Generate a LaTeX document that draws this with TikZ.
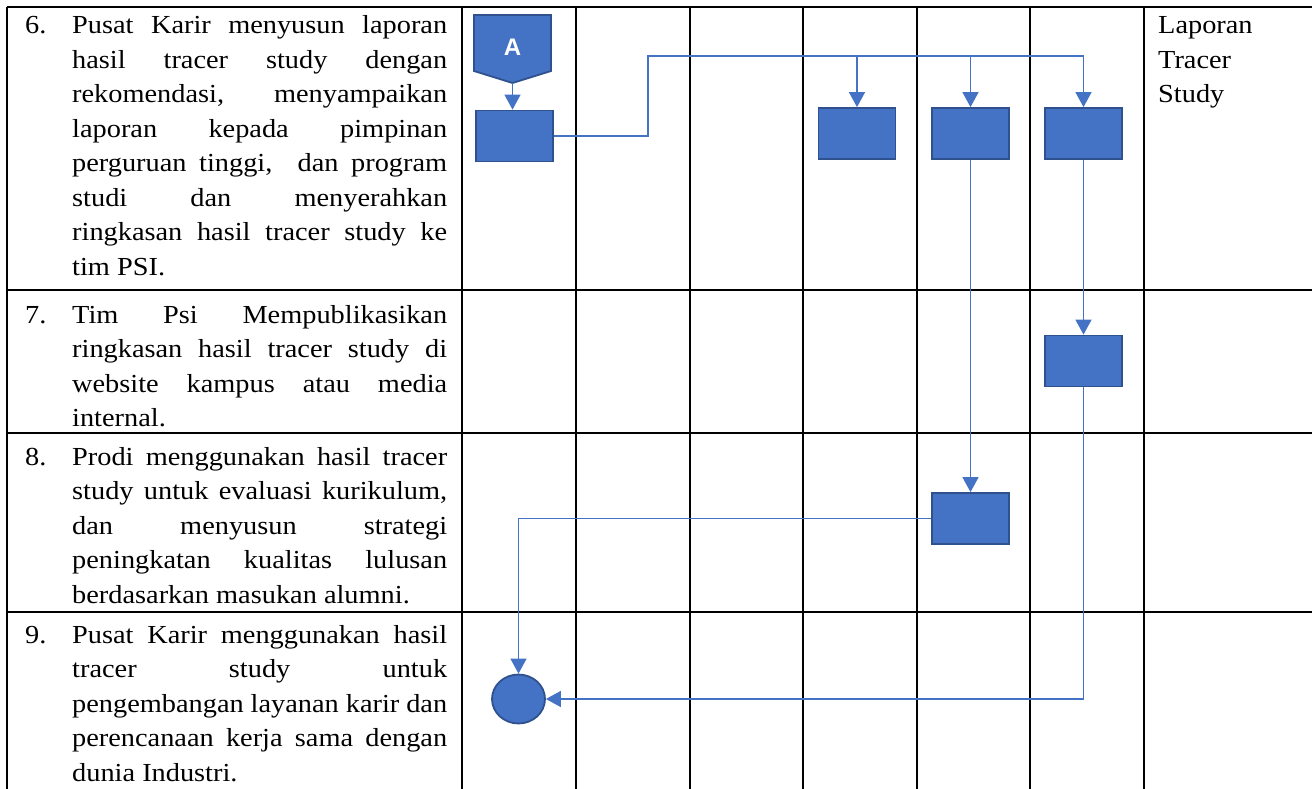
\documentclass[tikz,border=0pt]{standalone}
\usepackage{fontspec}
\setmainfont{Liberation Serif}[FakeStretch=1.09]
\newfontfamily\sansb{Liberation Sans}
\usetikzlibrary{arrows.meta,shapes.geometric}
\definecolor{fillblue}{HTML}{4472C4}
\definecolor{edgeblue}{HTML}{2F528F}
\definecolor{lineblue}{HTML}{4472C4}
\newlength\tw \setlength\tw{375pt}
\newcommand\JL[1]{\makebox[\tw][s]{#1}\\}
\begin{document}
\begin{tikzpicture}[x=1pt,y=-1pt,
  gridline/.style={line width=2.6pt, black},
  proc/.style={rectangle, draw=edgeblue, fill=fillblue, line width=1.8pt, minimum width=77pt, minimum height=51pt, inner sep=0pt},
  endnode/.style={ellipse, draw=edgeblue, fill=fillblue, line width=1.8pt, minimum width=53pt, minimum height=49pt, inner sep=0pt},
  conn/.style={draw=lineblue, line width=1.3pt},
  arr/.style={conn, -{Triangle[width=16pt,length=15pt]}},
  txt/.style={inner sep=0pt, anchor=base west, font=\fontsize{26pt}{34.5pt}\selectfont}]
\useasboundingbox (0,0) rectangle (1312,789);
\fill[white] (0,0) rectangle (1312,789);
% grid
\foreach \x in {7,462,576,690,803,917,1030,1144} \draw[gridline] (\x,7) -- (\x,789);
\foreach \y in {7,290,433,612} \draw[gridline] (7,\y) -- (1312,\y);
% texts
\node[txt] (n6) at (25,34) {6.};
\node[txt] (t6) at (72,34) {\parbox[t]{\tw}{\JL{Pusat Karir menyusun laporan}\JL{hasil tracer study dengan}\JL{rekomendasi, menyampaikan}\JL{laporan kepada pimpinan}\JL{perguruan tinggi,\ \ dan program}\JL{studi dan menyerahkan}\JL{ringkasan hasil tracer study ke}tim PSI.}};
\node[txt] (n7) at (25,323) {7.};
\node[txt] (t7) at (72,323) {\parbox[t]{\tw}{\JL{Tim Psi Mempublikasikan}\JL{ringkasan hasil tracer study di}\JL{website kampus atau media}internal.}};
\node[txt] (n8) at (25,465) {8.};
\node[txt] (t8) at (72,465) {\parbox[t]{\tw}{\JL{Prodi menggunakan hasil tracer}\JL{study untuk evaluasi kurikulum,}\JL{dan menyusun strategi}\JL{peningkatan kualitas lulusan}berdasarkan masukan alumni.}};
\node[txt] (n9) at (25,643) {9.};
\node[txt] (t9) at (72,643) {\parbox[t]{\tw}{\JL{Pusat Karir menggunakan hasil}\JL{tracer study untuk}\JL{pengembangan layanan karir dan}\JL{perencanaan kerja sama dengan}dunia Industri.}};
\node[txt] (lap) at (1158,34) {\parbox[t]{140pt}{Laporan\\Tracer\\Study}};
% shapes
\coordinate (Atip) at (512.5,83);
\filldraw[fill=fillblue, draw=edgeblue, line width=1.8pt] (474,15) -- (551,15) -- (551,71) -- (Atip) -- (474,71) -- cycle;
\node[text=white, font=\sansb\bfseries\fontsize{24pt}{24pt}\selectfont] (A) at (512.5,47) {A};
\node[proc] (p1) at (514.5,136) {};
\node[proc] (p4) at (857,133.5) {};
\node[proc] (p5) at (970.5,133.5) {};
\node[proc] (p6) at (1083.5,133.5) {};
\node[proc] (q6) at (1083.5,361) {};
\node[proc] (r5) at (970.5,518.5) {};
\node[endnode] (e) at (518.5,699) {};
\coordinate (k1) at (648,56);
% connectors
\draw[arr] (Atip) -- (Atip |- p1.north);
\draw[conn] (p1.east) -| (k1) -- (k1 -| p6.north);
\draw[arr] (k1 -| p4.north) -- (p4.north);
\draw[arr] (k1 -| p5.north) -- (p5.north);
\draw[arr] (k1 -| p6.north) -- (p6.north);
\draw[arr] (p6.south) -- (q6.north);
\draw[arr] (p5.south) -- (r5.north);
\draw[arr] (r5.west) -| (e.north);
\draw[arr] (q6.south) |- (e.east);
\end{tikzpicture}
\end{document}
